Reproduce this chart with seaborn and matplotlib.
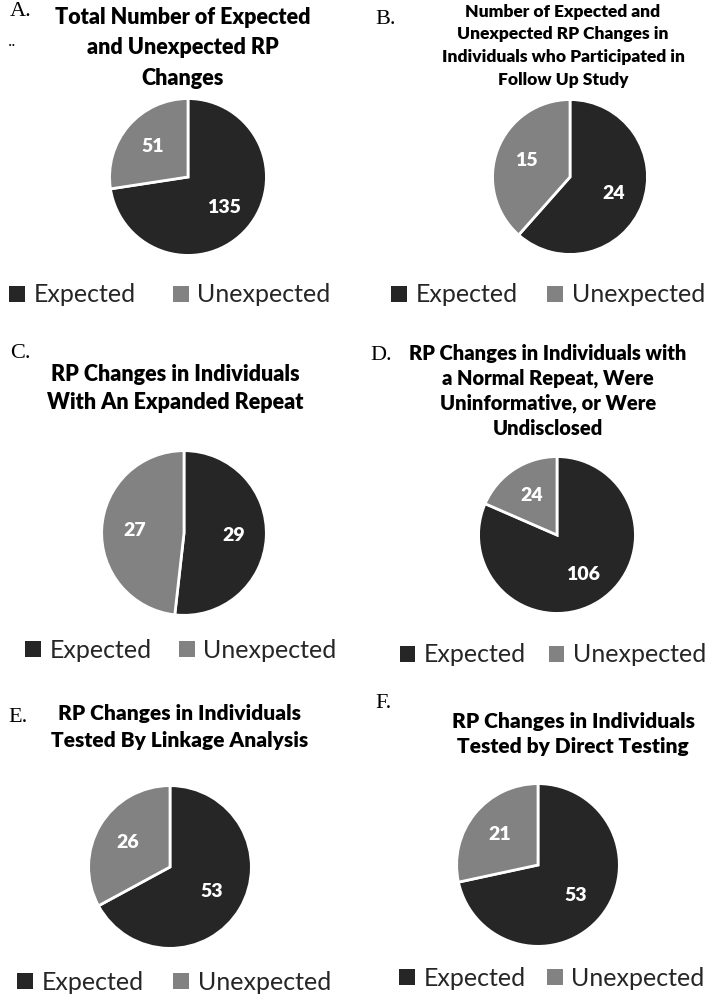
import seaborn as sns
import matplotlib.pyplot as plt
from matplotlib.patches import Patch

# values
panel_letters = ['A.', 'B.', 'C.', 'D.', 'E.', 'F.']
titles = [
    'Total Number of Expected\nand Unexpected RP\nChanges',
    'Number of Expected and\nUnexpected RP Changes in\nIndividuals who Participated in\nFollow Up Study',
    'RP Changes in Individuals\nWith An Expanded Repeat',
    'RP Changes in Individuals with\na Normal Repeat, Were\nUninformative, or Were\nUndisclosed',
    'RP Changes in Individuals\nTested By Linkage Analysis',
    'RP Changes in Individuals\nTested by Direct Testing',
]
expected = [135, 24, 29, 106, 53, 53]
unexpected = [51, 15, 27, 24, 26, 21]
categories = ['Expected', 'Unexpected']

sns.set_theme(style="white")
plt.rcParams['font.family'] = ['Lato', 'DejaVu Sans']
colors = ['#262626', '#828282']

W, H = 709, 996
fig = plt.figure(figsize=(W / 100, H / 100), dpi=100)

# layout per panel in pixels: pie centre/radius, title centre/top, letter pos, legend centre
layout = [
    dict(cx=188, cy=177, r=80, tx=183, ty=18, tfs=15.5, ls=1.55, lx=10, ly=12, gx=170, gy=295, cs=1.5),
    dict(cx=570, cy=177, r=79, tx=563, ty=15, tfs=12.5, ls=1.5, lx=375, ly=20, gx=548, gy=295, cs=1.2),
    dict(cx=184, cy=533, r=84, tx=175, ty=375, tfs=15.5, ls=1.4, lx=10, ly=353, gx=181, gy=650, cs=1.1),
    dict(cx=557, cy=535, r=80, tx=548, ty=355, tfs=14.5, ls=1.35, lx=370, ly=355, gx=553, gy=655, cs=0.9),
    dict(cx=170, cy=867, r=83, tx=180, ty=715, tfs=15, ls=1.5, lx=8, ly=717, gx=174, gy=982, cs=1.2),
    dict(cx=538, cy=865, r=83, tx=573, ty=723, tfs=15, ls=1.4, lx=375, ly=703, gx=552, gy=978, cs=0.85),
]

handles = [Patch(facecolor=c, edgecolor='none') for c in colors]

for i, lay in enumerate(layout):
    vals = [expected[i], unexpected[i]]
    total = sum(vals)
    cx, cy, r = lay['cx'], lay['cy'], lay['r']
    ax = fig.add_axes([(cx - r) / W, 1 - (cy + r) / H, 2 * r / W, 2 * r / H])
    wedges, texts, autotexts = ax.pie(
        vals, colors=colors, startangle=90, counterclock=False,
        autopct=lambda p, t=total: f'{round(p * t / 100)}', pctdistance=0.6,
        wedgeprops=dict(edgecolor='white', linewidth=2),
        textprops=dict(color='white', fontsize=14, fontweight='heavy'))
    ax.set_xlim(-1.02, 1.02)
    ax.set_ylim(-1.02, 1.02)
    ax.set_aspect('equal')
    ax.axis('off')

    # title (bold, centred)
    fig.text(lay['tx'] / W, 1 - (lay['ty'] - 11) / H, titles[i], ha='center', va='top',
             fontsize=lay['tfs'], fontweight='heavy', color='black', linespacing=lay['ls'])
    # panel letter in serif
    fig.text(lay['lx'] / W, 1 - lay['ly'] / H, panel_letters[i], ha='left', va='center',
             fontsize=16, family='Liberation Serif', color='black')

    fig.legend(handles, categories, loc='center', ncol=2, frameon=False,
               bbox_to_anchor=(lay['gx'] / W, 1 - lay['gy'] / H),
               fontsize=18, handlelength=0.62, handleheight=0.62,
               handletextpad=0.35, columnspacing=lay['cs'])

fig.text(8 / W, 1 - 42 / H, '..', ha='left', va='center', fontsize=12,
         family='Liberation Serif', color='black')

plt.savefig('out.png', dpi=100)
